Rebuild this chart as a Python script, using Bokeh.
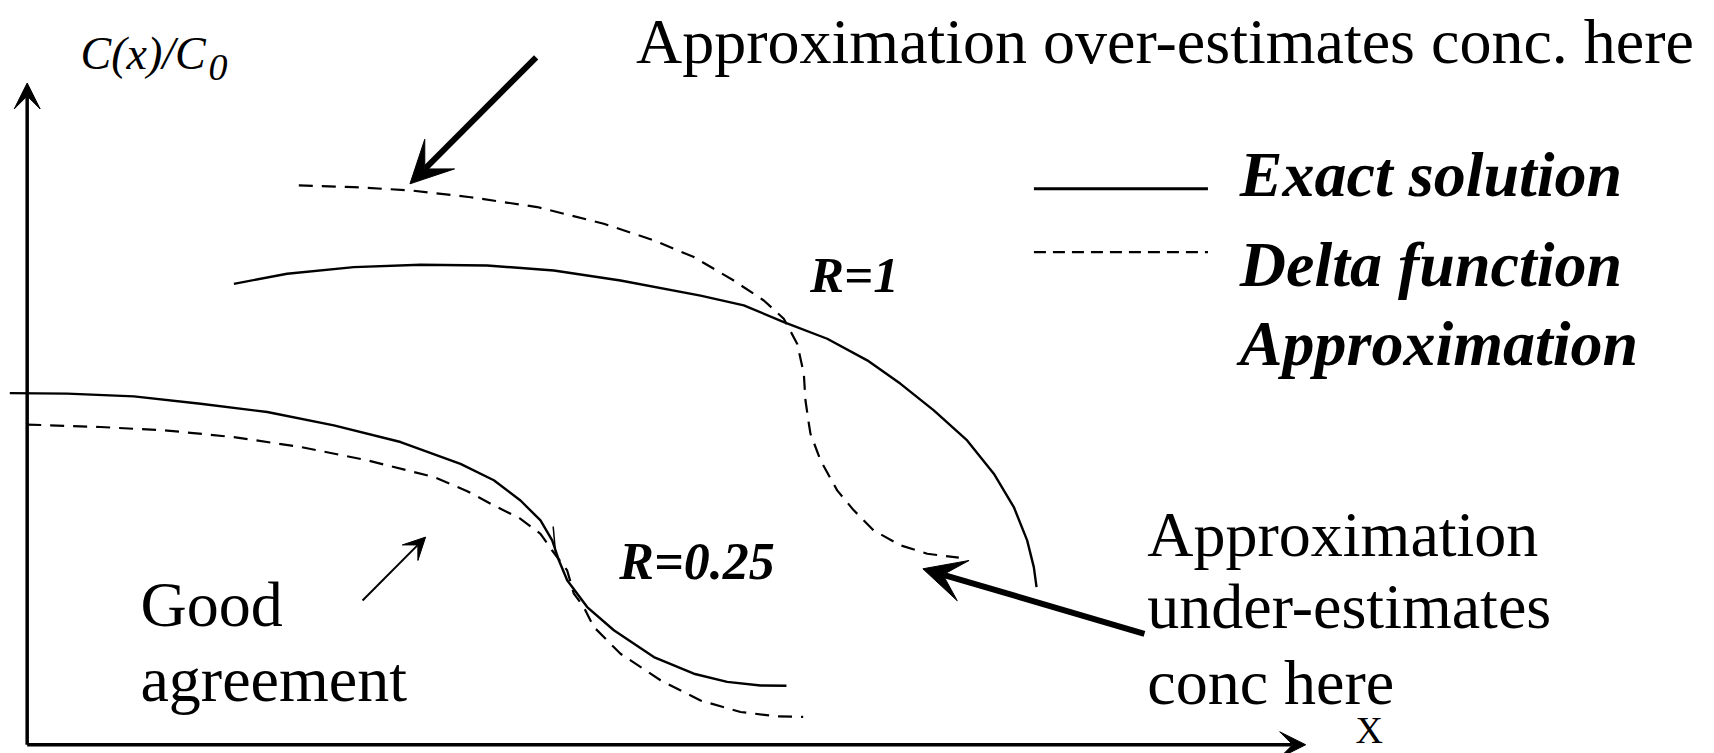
from bokeh.plotting import figure
from bokeh.models import Range1d, Arrow, VeeHead, Label
from bokeh.embed import file_html
from bokeh.resources import INLINE

# Schematic concentration profiles C(x)/C0 against distance x
# (arbitrary diagram units: x along the axis, c = C(x)/C0)

# R = 1 : exact solution
exact_r1_x = [1.915, 2.402, 3.012, 3.622, 4.232, 4.842, 5.452, 6.184, 6.58, 6.946, 7.343,
              7.709, 8.014, 8.318, 8.623, 8.867, 9.05, 9.172, 9.233, 9.258]
exact_r1_c = [1.695, 1.732, 1.756, 1.765, 1.762, 1.744, 1.707, 1.652, 1.616, 1.555, 1.494,
              1.415, 1.329, 1.232, 1.122, 1.000, 0.878, 0.756, 0.658, 0.585]

# R = 1 : delta function approximation
delta_r1_x = [2.509, 3.012, 3.531, 4.08, 4.69, 5.299, 5.757, 6.123, 6.488, 6.763, 6.946, 7.068,
              7.129, 7.144, 7.175, 7.19, 7.282, 7.434, 7.586, 7.769, 8.014, 8.258, 8.547]
delta_r1_c = [2.055, 2.049, 2.037, 2.012, 1.976, 1.915, 1.854, 1.793, 1.707, 1.634, 1.567, 1.476,
              1.366, 1.268, 1.183, 1.146, 1.049, 0.939, 0.866, 0.792, 0.738, 0.707, 0.693]

# R = 0.25 : exact solution
exact_r025_x = [-0.135, 0.39, 1.00, 1.61, 2.22, 2.83, 3.44, 3.988, 4.293, 4.537, 4.72, 4.827,
                4.888, 4.964, 5.147, 5.391, 5.757, 6.123, 6.428, 6.733, 6.97]
exact_r025_c = [1.295, 1.293, 1.283, 1.256, 1.226, 1.177, 1.116, 1.036, 0.976, 0.902, 0.829, 0.756,
                0.683, 0.610, 0.512, 0.427, 0.329, 0.268, 0.238, 0.225, 0.224]

# R = 0.25 : delta function approximation
delta_r025_x = [0.024, 0.695, 1.305, 1.914, 2.524, 3.135, 3.744, 4.05, 4.293, 4.537, 4.72, 4.827,
                4.964, 5.025, 5.116, 5.208, 5.452, 5.818, 6.184, 6.55, 6.885, 7.123]
delta_r025_c = [1.180, 1.171, 1.158, 1.134, 1.098, 1.049, 0.988, 0.936, 0.884, 0.835, 0.780, 0.719,
                0.646, 0.561, 0.512, 0.439, 0.341, 0.244, 0.170, 0.128, 0.112, 0.110]

# short stroke where the two R = 0.25 curves meet
meet_x = [4.836, 4.857]
meet_c = [0.807, 0.713]

# axes of the diagram
axis_origin = (0.024, 0.008)
x_axis_end = 11.72
y_axis_end = 2.43

# callout arrows: (x_start, c_start, x_end, c_end)
over_arrow = (4.68, 2.524, 3.526, 2.061)
under_arrow = (10.245, 0.414, 8.218, 0.652)
good_arrow = (3.092, 0.536, 3.669, 0.768)

# legend samples
legend_x = [9.234, 10.826]
legend_solid_c = 2.043
legend_dash_c = 1.811

SERIF = "Liberation Serif"
DASH = "14 9"

p = figure(width=1714, height=753, x_range=Range1d(-0.22, 15.46), y_range=Range1d(-0.024, 2.732),
           x_axis_type=None, y_axis_type=None, output_backend="svg", toolbar_location=None,
           min_border=0, background_fill_color="white", border_fill_color="white")
p.grid.visible = False
p.outline_line_color = None

# profiles
p.line(exact_r1_x, exact_r1_c, line_color="black", line_width=2.4, line_join="round")
p.line(delta_r1_x, delta_r1_c, line_color="black", line_width=2.2, line_dash=DASH, line_join="round")
p.line(exact_r025_x, exact_r025_c, line_color="black", line_width=2.4, line_join="round")
p.line(delta_r025_x, delta_r025_c, line_color="black", line_width=2.2, line_dash=DASH, line_join="round")
p.line(meet_x, meet_c, line_color="black", line_width=1.5)

# legend samples
p.line(legend_x, [legend_solid_c] * 2, line_color="black", line_width=2.8)
p.line(legend_x, [legend_dash_c] * 2, line_color="black", line_width=2.4, line_dash="12 7")


def add_arrow(x0, y0, x1, y1, width, head):
    p.add_layout(Arrow(x_start=x0, y_start=y0, x_end=x1, y_end=y1, line_width=width,
                       line_color="black",
                       end=VeeHead(size=head, fill_color="black", line_color="black", line_width=1)))


# axes with arrow heads
add_arrow(axis_origin[0], axis_origin[1], axis_origin[0], y_axis_end, 3.5, 26)
add_arrow(axis_origin[0], axis_origin[1], x_axis_end, axis_origin[1], 3.5, 26)

# callouts
add_arrow(*over_arrow, 6, 42)
add_arrow(*under_arrow, 6, 42)
add_arrow(*good_arrow, 2, 22)


def add_text(txt, x, y, size, style="normal"):
    # baseline placed at (x, y); offset compensates the renderer's baseline shift
    p.add_layout(Label(x=x, y=y, text=txt, text_font=SERIF, text_font_size=f"{size}px",
                       text_font_style=style, text_color="black", text_align="left",
                       text_baseline="alphabetic", y_offset=0.365 * size))


add_text("C(x)/C", 0.512, 2.476, 46, "italic")
add_text("0", 1.683, 2.436, 38, "italic")
add_text("X", 12.176, 0.012, 38)

add_text("Approximation over-estimates conc. here", 5.594, 2.495, 64)

add_text("Exact solution", 11.118, 2.010, 64, "bold italic")
add_text("Delta function", 11.118, 1.679, 64, "bold italic")
add_text("Approximation", 11.118, 1.392, 64, "bold italic")

add_text("R=1", 7.186, 1.659, 51, "bold italic")
add_text("R=0.25", 5.441, 0.610, 52, "bold italic")

add_text("Good", 1.06, 0.437, 64)
add_text("agreement", 1.06, 0.162, 64)

add_text("Approximation", 10.271, 0.693, 64)
add_text("under-estimates", 10.271, 0.430, 64)
add_text("conc here", 10.271, 0.150, 64)

open("out.html", "w").write(file_html(p, INLINE))
